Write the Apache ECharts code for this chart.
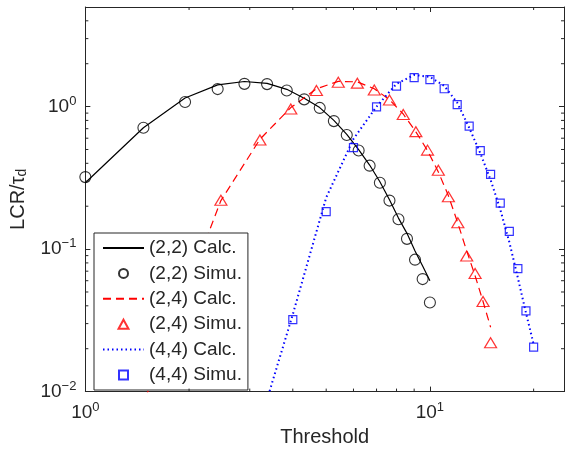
<!DOCTYPE html>
<html>
<head>
<meta charset="utf-8">
<script src="https://cdn.jsdelivr.net/npm/echarts@6/dist/echarts.min.js"></script>
<style>html,body{margin:0;padding:0;background:#fff;}#c{width:567px;height:452px;}</style>
</head>
<body>
<div id="c"></div>
<script>
// ---- data ----
const x22 = [1, 1.474, 1.947, 2.421, 2.895, 3.368, 3.842, 4.316, 4.789, 5.263, 5.737, 6.211, 6.684, 7.158, 7.632, 8.105, 8.579, 9.053, 9.526, 10];
const calc22 = [0.292, 0.711, 1.149, 1.421, 1.50, 1.457, 1.322, 1.146, 0.984, 0.80, 0.639, 0.499, 0.389, 0.297, 0.222, 0.165, 0.129, 0.097, 0.076, 0.060];
const simu22 = [0.320, 0.711, 1.078, 1.327, 1.444, 1.438, 1.298, 1.124, 0.979, 0.791, 0.632, 0.492, 0.385, 0.292, 0.219, 0.162, 0.118, 0.0843, 0.0616, 0.0422];

const x24 = [1, 1.737, 2.474, 3.211, 3.947, 4.684, 5.421, 6.158, 6.895, 7.632, 8.368, 9.105, 9.842, 10.579, 11.316, 12.053, 12.789, 13.526, 14.263, 15];
const calc24 = [0.0007, 0.0235, 0.219, 0.590, 0.984, 1.334, 1.503, 1.491, 1.334, 1.118, 0.887, 0.665, 0.491, 0.348, 0.237, 0.152, 0.097, 0.065, 0.0429, 0.0283];
const simu24 = [null, null, 0.220, 0.583, 0.961, 1.297, 1.484, 1.461, 1.308, 1.113, 0.880, 0.667, 0.495, 0.358, 0.233, 0.153, 0.0894, 0.0674, 0.0429, 0.0220];

const x44 = [1, 2, 3, 4, 5, 6, 7, 8, 9, 10, 11, 12, 13, 14, 15, 16, 17, 18, 19, 20];
const calc44 = [0.00001, 0.0002, 0.0035, 0.0348, 0.230, 0.593, 1.0, 1.445, 1.668, 1.615, 1.399, 1.066, 0.711, 0.472, 0.306, 0.190, 0.112, 0.0628, 0.0357, 0.0215];
const simu44 = [null, null, null, 0.0320, 0.183, 0.515, 0.995, 1.392, 1.598, 1.545, 1.334, 1.032, 0.730, 0.491, 0.334, 0.210, 0.133, 0.0730, 0.0369, 0.0205];

const seriesNames = ['(2,2) Calc.', '(2,2) Simu.', '(2,4) Calc.', '(2,4) Simu.', '(4,4) Calc.', '(4,4) Simu.'];
const xRange = [1, 24.5];
const yRange = [0.01, 5];
const xMinorTicks = [2, 3, 4, 5, 6, 7, 8, 9, 20];
const yMinorTicks = [0.02, 0.03, 0.04, 0.05, 0.06, 0.07, 0.08, 0.09, 0.2, 0.3, 0.4, 0.5, 0.6, 0.7, 0.8, 0.9, 2, 3, 4];

// ---- helpers ----
const pairs = (xs, ys) => xs.map((x, i) => [x, ys[i]]).filter(p => p[1] != null);
const FONT = 'Liberation Sans';
const AX = '#262626';
function powLabel(v) {
  const l = Math.log10(v);
  const e = Math.round(l);
  if (Math.abs(l - e) > 1e-6) return '';
  return '10{sup|' + (e < 0 ? '\u2212' + (-e) : e) + '}';
}
const supRich = { sup: { fontSize: 13, fontFamily: FONT, color: AX, padding: [0, 0, 11, 0] } };

function tickSeries(values, isX) {
  return {
    type: 'custom',
    silent: true,
    z: 5,
    xAxisIndex: 0, yAxisIndex: 0,
    data: values.map(v => isX ? [v, yRange[0]] : [xRange[0], v]),
    encode: { x: 0, y: 1 },
    clip: false,
    renderItem: function (params, api) {
      const L = 3;
      const st = { stroke: AX, lineWidth: 1 };
      if (isX) {
        const v = api.value(0);
        const b = api.coord([v, yRange[0]]);
        const t = api.coord([v, yRange[1]]);
        return { type: 'group', children: [
          { type: 'line', shape: { x1: b[0], y1: b[1], x2: b[0], y2: b[1] - L }, style: st },
          { type: 'line', shape: { x1: t[0], y1: t[1], x2: t[0], y2: t[1] + L }, style: st }
        ]};
      } else {
        const v = api.value(1);
        const l = api.coord([xRange[0], v]);
        const r = api.coord([xRange[1], v]);
        return { type: 'group', children: [
          { type: 'line', shape: { x1: l[0], y1: l[1], x2: l[0] + L, y2: l[1] }, style: st },
          { type: 'line', shape: { x1: r[0], y1: r[1], x2: r[0] - L, y2: r[1] }, style: st }
        ]};
      }
    }
  };
}

const ICON_CIRCLE = 'path://M0,5 A5,5 0 1,1 10,5 A5,5 0 1,1 0,5 Z';
const ICON_TRI = 'path://M5.5,0 L11,10 L0,10 Z';
const ICON_RECT = 'path://M0,0 L8,0 L8,8 L0,8 Z';

const chart = echarts.init(document.getElementById('c'), null, { renderer: 'canvas' });
const baseAxis = {
  type: 'log', logBase: 10,
  axisLine: { show: true, lineStyle: { color: AX, width: 1 } },
  axisTick: { show: true, inside: true, length: 5, lineStyle: { color: AX, width: 1 } },
  splitLine: { show: false },
  minorTick: { show: false },
};
const option = {
  backgroundColor: '#fff',
  animation: false,
  textStyle: { fontFamily: FONT },
  grid: { left: 84, top: 7, width: 481, height: 389, containLabel: false },
  xAxis: [
    Object.assign({}, baseAxis, {
      position: 'bottom', min: xRange[0], max: xRange[1],
      name: 'Threshold', nameLocation: 'middle', nameGap: 35,
      nameTextStyle: { fontSize: 20, fontFamily: FONT, color: AX },
      axisLabel: { formatter: powLabel, fontSize: 19, fontFamily: FONT, color: AX, margin: 9, rich: supRich, showMinLabel: true, showMaxLabel: true, hideOverlap: false }
    }),
    Object.assign({}, baseAxis, {
      position: 'top', min: xRange[0], max: xRange[1],
      axisLabel: { show: false }
    })
  ],
  yAxis: [
    Object.assign({}, baseAxis, {
      position: 'left', min: yRange[0], max: yRange[1],
      name: 'LCR/\u03c4{sub|d}', nameLocation: 'middle', nameGap: 48,
      nameTextStyle: { fontSize: 20, fontFamily: FONT, color: AX,
        rich: { sub: { fontSize: 14, fontFamily: FONT, color: AX, padding: [9, 0, 0, 0] } } },
      axisLabel: { formatter: powLabel, fontSize: 19, fontFamily: FONT, color: AX, margin: 9, rich: supRich, showMinLabel: true, showMaxLabel: true, hideOverlap: false }
    }),
    Object.assign({}, baseAxis, {
      position: 'right', min: yRange[0], max: yRange[1],
      axisLabel: { show: false }
    })
  ],
  legend: {
    data: [
      { name: seriesNames[0], itemStyle: { opacity: 0 } },
      { name: seriesNames[1], icon: ICON_CIRCLE },
      { name: seriesNames[2], itemStyle: { opacity: 0 } },
      { name: seriesNames[3], icon: ICON_TRI },
      { name: seriesNames[4], itemStyle: { opacity: 0 } },
      { name: seriesNames[5], icon: ICON_RECT }
    ],
    orient: 'vertical',
    left: 94, top: 233,
    padding: [5, 6, 5, 8],
    itemGap: 5.4,
    itemWidth: 41, itemHeight: 9,
    backgroundColor: '#fff',
    borderColor: AX, borderWidth: 1, borderRadius: 0,
    textStyle: { fontSize: 19, fontFamily: FONT, color: AX, lineHeight: 20 },
    selectedMode: false
  },
  series: [
    { name: seriesNames[0], type: 'line', data: pairs(x22, calc22), symbol: 'none',
      lineStyle: { color: '#000', width: 1.2, type: 'solid' }, itemStyle: { color: '#000' }, z: 2 },
    { name: seriesNames[1], type: 'scatter', data: pairs(x22, simu22), symbol: 'circle', symbolSize: 11,
      itemStyle: { color: 'rgba(0,0,0,0)', borderColor: '#000', borderWidth: 1.1 }, z: 3 },
    { name: seriesNames[2], type: 'line', data: pairs(x24, calc24), symbol: 'none',
      lineStyle: { color: '#ff0000', width: 1.2, type: [8, 5] }, itemStyle: { color: '#ff0000' }, z: 2 },
    { name: seriesNames[3], type: 'scatter', data: pairs(x24, simu24), symbol: 'triangle', symbolSize: [12, 10],
      itemStyle: { color: 'rgba(0,0,0,0)', borderColor: '#ff0000', borderWidth: 1.2 }, z: 3 },
    { name: seriesNames[4], type: 'line', data: pairs(x44, calc44), symbol: 'none',
      lineStyle: { color: '#0000ff', width: 2, type: [1.5, 3] }, itemStyle: { color: '#0000ff' }, z: 2 },
    { name: seriesNames[5], type: 'scatter', data: pairs(x44, simu44), symbol: 'rect', symbolSize: 8,
      itemStyle: { color: 'rgba(0,0,0,0)', borderColor: '#0000ff', borderWidth: 1.2 }, z: 3 },
    tickSeries(xMinorTicks, true),
    tickSeries(yMinorTicks, false)
  ]
};
chart.setOption(option);
</script>
</body>
</html>
